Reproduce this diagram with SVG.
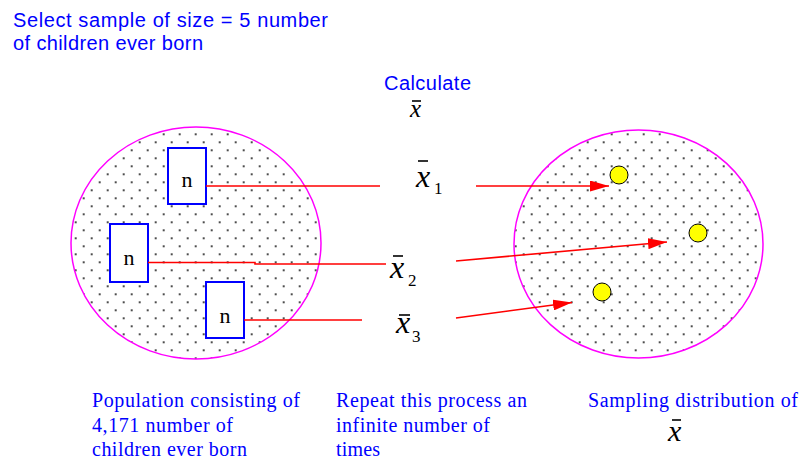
<svg xmlns="http://www.w3.org/2000/svg" width="804" height="460" viewBox="0 0 804 460">
<style>
.sans{font-family:"Liberation Sans",Arial,sans-serif;font-size:20px;fill:#0000ff}
.serif{font-family:"Liberation Serif","Times New Roman",serif;font-size:20px;fill:#0000ff}
.n{font-family:"Liberation Serif","Times New Roman",serif;font-size:22px;fill:#000;text-anchor:middle}
.xb{font-family:"Liberation Serif","Times New Roman",serif;font-style:italic;fill:#000}
.sub{font-family:"Liberation Serif","Times New Roman",serif;font-size:17px;fill:#000}
.bar{stroke:#000;stroke-width:1.6}
.pop{fill:url(#dots);stroke:#ff00ff;stroke-width:1.5}
.box{fill:#fff;stroke:#0000ff;stroke-width:2}
.conn{stroke:#ff0000;stroke-width:1.6;fill:none}
.mean{fill:#ffff00;stroke:#000;stroke-width:1}
</style>
<defs>
<pattern id="dots" patternUnits="userSpaceOnUse" x="3.7" y="6.3" width="16" height="16">
<rect width="16" height="16" fill="#fff"/>
<circle cx="0" cy="0" r="1" fill="#111"/>
<circle cx="16" cy="0" r="1" fill="#111"/>
<circle cx="0" cy="16" r="1" fill="#111"/>
<circle cx="16" cy="16" r="1" fill="#111"/>
<circle cx="8" cy="8" r="1" fill="#111"/>
</pattern>
<marker id="arr" markerUnits="userSpaceOnUse" markerWidth="19" markerHeight="11" refX="19" refY="5.5" orient="auto">
<path d="M0,0 L19,5.5 L0,11 z" fill="#ff0000"/>
</marker>
</defs>
<rect width="804" height="460" fill="#fff"/>

<g id="title">
<text class="sans" x="13" y="27" textLength="315" lengthAdjust="spacing">Select sample of size = 5 number</text>
<text class="sans" x="13" y="50" textLength="190" lengthAdjust="spacing">of children ever born</text>
</g>

<g id="calculate">
<text class="sans" x="384" y="90" textLength="87" lengthAdjust="spacing">Calculate</text>
<text class="xb" x="410" y="117" font-size="25">x</text>
<line class="bar" x1="412" y1="101" x2="421" y2="101"/>
</g>

<g id="population">
<ellipse class="pop" cx="196" cy="243" rx="125" ry="116"/>
</g>
<g id="sample1">
<rect class="box" x="168" y="148" width="38" height="56"/>
<text class="n" x="187" y="187">n</text>
</g>
<g id="sample2">
<rect class="box" x="110" y="224" width="38" height="58"/>
<text class="n" x="129" y="265">n</text>
</g>
<g id="sample3">
<rect class="box" x="206" y="282" width="38" height="56"/>
<text class="n" x="225" y="323">n</text>
</g>

<g id="mean1">
<text class="xb" x="416" y="187" font-size="32">x</text>
<line class="bar" x1="418" y1="161" x2="428" y2="161"/>
<text class="sub" x="434" y="194">1</text>
</g>
<g id="mean2">
<text class="xb" x="390" y="278" font-size="32">x</text>
<line class="bar" x1="393" y1="256" x2="403" y2="256"/>
<text class="sub" x="408" y="286">2</text>
</g>
<g id="mean3">
<text class="xb" x="396" y="333" font-size="32">x</text>
<line class="bar" x1="399" y1="315" x2="410" y2="315"/>
<text class="sub" x="412" y="342" font-size="18">3</text>
</g>

<g id="sampling-distribution">
<ellipse class="pop" cx="638.5" cy="244" rx="124.5" ry="114"/>
<circle class="mean" cx="619" cy="175" r="9"/>
<circle class="mean" cx="698" cy="233" r="9"/>
<circle class="mean" cx="602" cy="292" r="9"/>
</g>

<g id="connectors">
<line class="conn" x1="206" y1="186" x2="380" y2="186"/>
<line class="conn" x1="476" y1="186" x2="609" y2="186" marker-end="url(#arr)"/>
<polyline class="conn" points="148,262.5 255,262.5 255,264 386,264"/>
<line class="conn" x1="456" y1="261" x2="667" y2="242" marker-end="url(#arr)"/>
<line class="conn" x1="244" y1="320" x2="362" y2="320"/>
<line class="conn" x1="456" y1="318" x2="572" y2="302.5" marker-end="url(#arr)"/>
</g>

<g id="label-population">
<text class="serif" x="92" y="407" textLength="208" lengthAdjust="spacing">Population consisting of</text>
<text class="serif" x="92" y="432" textLength="141" lengthAdjust="spacing">4,171 number of</text>
<text class="serif" x="92" y="456" textLength="155" lengthAdjust="spacing">children ever born</text>
</g>
<g id="label-repeat">
<text class="serif" x="336" y="407" textLength="191" lengthAdjust="spacing">Repeat this process an</text>
<text class="serif" x="336" y="432" textLength="154" lengthAdjust="spacing">infinite number of</text>
<text class="serif" x="336" y="456" textLength="44" lengthAdjust="spacing">times</text>
</g>
<g id="label-sampling">
<text class="serif" x="588" y="407" textLength="210" lengthAdjust="spacing">Sampling distribution of</text>
<text class="xb" x="668" y="441" font-size="30">x</text>
<line class="bar" x1="672" y1="420" x2="681" y2="420"/>
</g>
</svg>
